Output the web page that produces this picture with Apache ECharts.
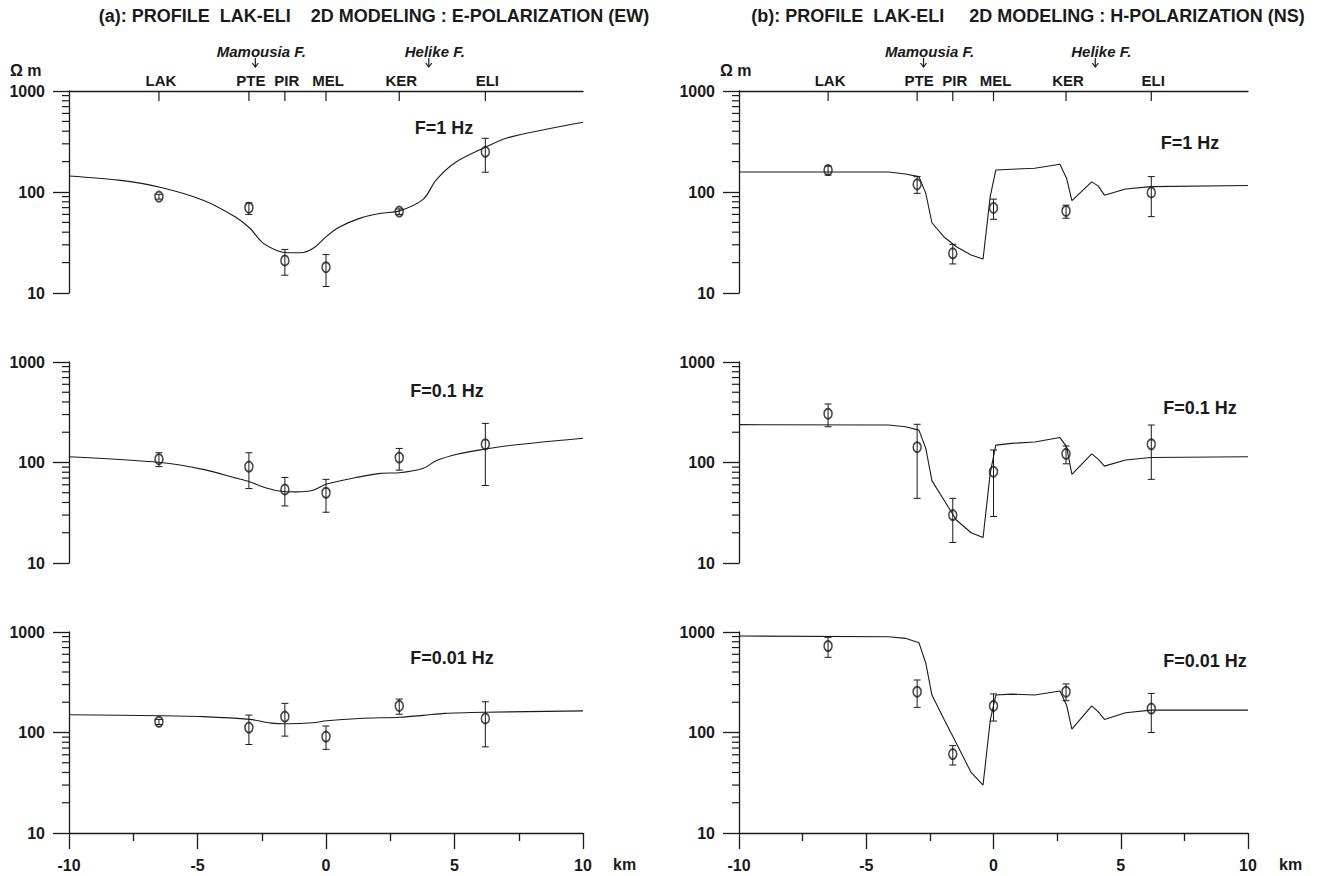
<!DOCTYPE html>
<html><head><meta charset="utf-8">
<script src="https://cdn.jsdelivr.net/npm/echarts@6/dist/echarts.min.js"></script>
<style>html,body{margin:0;padding:0;background:#fff}#c{width:1320px;height:876px}</style>
</head><body><div id="c"></div>
<script>
// ---------- DATA ----------
const STATIONS = ['LAK', 'PTE', 'PIR', 'MEL', 'KER', 'ELI'];
const STATION_X = [-6.5, -3.0, -1.6, 0.0, 2.85, 6.2];
const FAULTS = ['Mamousia F.', 'Helike F.'];
const FAULT_X = [-2.75, 4.0];
const FREQS = ['F=1 Hz', 'F=0.1 Hz', 'F=0.01 Hz'];
const TITLE_A = '(a): PROFILE  LAK-ELI    2D MODELING : E-POLARIZATION (EW)';
const TITLE_B = '(b): PROFILE  LAK-ELI     2D MODELING : H-POLARIZATION (NS)';
const Y_UNIT = 'Ω m';
const X_UNIT = 'km';
const MINOR_Y_TICKS = [20, 30, 40, 50, 60, 70, 80, 90, 200, 300, 400, 500, 600, 700, 800, 900];

// E-polarization (EW) observed apparent resistivity and error limits
const E1_OBS = [90, 70, 21, 18, 64, 250];
const E1_LO  = [85, 60, 15, 11.6, 60, 157];
const E1_HI  = [95, 78, 27, 24, 68, 340];
const E01_OBS = [108, 91, 54, 50, 112, 152];
const E01_LO  = [91, 55, 37, 32, 84, 59];
const E01_HI  = [125, 125, 71, 68, 138, 245];
const E001_OBS = [128, 112, 144, 91, 184, 138];
const E001_LO  = [120, 76, 92, 68, 152, 72];
const E001_HI  = [135, 149, 195, 116, 215, 202];

// E-polarization 2D model responses
const E1_MODEL_X = [-10, -8.07, -6.42, -4.78, -3.54, -2.97, -2.47, -1.89, -1.48, -0.99, -0.5, 0.03, 0.49, 1.31, 2.14, 2.86, 3.79, 4.28, 5.02, 6.17, 7.08, 10];
const E1_MODEL   = [144, 131, 111, 83, 57, 44, 31.5, 26.2, 25, 25, 27.7, 36.6, 44.6, 54.8, 61.5, 65, 85, 131, 195, 275, 345, 490];
const E01_MODEL_X = [-10, -6.45, -4.78, -3.46, -2.97, -2.47, -1.89, -1.16, -0.5, 0.03, 1.31, 2.14, 2.86, 3.79, 4.28, 5.1, 6.19, 7.08, 10];
const E01_MODEL   = [114, 100, 85.5, 69.6, 64.4, 57.4, 52.4, 51, 53, 61, 72, 78, 79, 87.5, 104, 121, 136, 147, 174];
const E001_MODEL_X = [-10, -6.45, -4.78, -2.97, -2.14, -1.48, -0.5, 0.03, 1.31, 2.86, 3.79, 4.61, 6.19, 10];
const E001_MODEL   = [150, 147, 144, 135, 124, 122, 125, 131, 138, 142, 148, 155, 159, 164];

// H-polarization (NS) observed apparent resistivity and error limits
const H1_OBS = [165, 119, 24.7, 69.5, 65, 99];
const H1_LO  = [147, 97, 19.4, 53.7, 55, 57];
const H1_HI  = [181, 142, 30.3, 85, 74, 142];
const H01_OBS = [306, 142, 30, 81, 122, 152];
const H01_LO  = [227, 44, 16, 29, 97, 68];
const H01_HI  = [382, 240, 44, 133, 146, 236];
const H001_OBS = [726, 255, 61, 184, 255, 173];
const H001_LO  = [560, 178, 47.5, 130, 207, 100];
const H001_HI  = [885, 333, 74, 242, 304, 245];

// H-polarization 2D model responses
const H_MODEL_X = [-10, -4.12, -3.46, -2.93, -2.66, -2.42, -1.93, -1.46, -0.88, -0.41, -0.13, 0.09, 0.70, 1.62, 2.61, 2.87, 3.08, 3.86, 4.11, 4.36, 5.19, 6.19, 10];
const H1_MODEL   = [158, 158, 151, 142, 97, 49.6, 35.6, 28.7, 23.8, 21.7, 90, 165, 168, 172, 188, 137, 82, 126, 115, 93, 107, 113, 116];
const H01_MODEL  = [238, 236, 227, 210, 138, 66, 41.7, 26.8, 20, 17.9, 78, 149, 155, 160, 177, 144, 76, 122, 108, 92, 106, 112, 114];
const H001_MODEL = [912, 898, 865, 783, 489, 236, 133, 78, 40, 30, 131, 236, 241, 236, 259, 188, 108, 184, 161, 135, 157, 167, 167];

// ---------- LAYOUT ----------
const FONT = '"Liberation Sans", Arial, sans-serif';
const INK = '#1a1a1a';
const COLS = [{left: 69, width: 514}, {left: 739, width: 509}];
const ROWS = [{top: 91, height: 202}, {top: 362, height: 201}, {top: 632, height: 201}];
const FREQ_POS = [[[444, 128], [1190, 143]], [[447, 391], [1200, 408]], [[452, 658], [1205, 661]]];

const panels = [
  {mx: E1_MODEL_X, my: E1_MODEL, obs: E1_OBS, lo: E1_LO, hi: E1_HI, smooth: 0.3},
  {mx: H_MODEL_X, my: H1_MODEL, obs: H1_OBS, lo: H1_LO, hi: H1_HI, smooth: false},
  {mx: E01_MODEL_X, my: E01_MODEL, obs: E01_OBS, lo: E01_LO, hi: E01_HI, smooth: 0.3},
  {mx: H_MODEL_X, my: H01_MODEL, obs: H01_OBS, lo: H01_LO, hi: H01_HI, smooth: false},
  {mx: E001_MODEL_X, my: E001_MODEL, obs: E001_OBS, lo: E001_LO, hi: E001_HI, smooth: 0.3},
  {mx: H_MODEL_X, my: H001_MODEL, obs: H001_OBS, lo: H001_LO, hi: H001_HI, smooth: false}
];

const grid = [], xAxis = [], yAxis = [], series = [], graphic = [];
const lineStyle = {color: INK, width: 1.3};

panels.forEach((p, i) => {
  const row = Math.floor(i / 2), col = i % 2;
  grid.push({left: COLS[col].left, width: COLS[col].width, top: ROWS[row].top, height: ROWS[row].height});
  const isBottom = row === 2;
  xAxis.push({
    type: 'value', gridIndex: i, min: -10, max: 10, interval: 5, show: isBottom, position: 'bottom',
    axisLine: {show: true, onZero: false, lineStyle},
    axisTick: {show: true, length: 16, lineStyle},
    minorTick: {show: true, splitNumber: 2, length: 8, lineStyle},
    axisLabel: {fontFamily: FONT, fontWeight: 'bold', fontSize: 16, color: INK, margin: 24, formatter: v => String(v)},
    splitLine: {show: false}, minorSplitLine: {show: false}
  });
  const xi = xAxis.length - 1;
  yAxis.push({
    type: 'log', logBase: 10, gridIndex: i, min: 10, max: 1000,
    axisLine: {show: true, onZero: false, lineStyle},
    axisTick: {show: true, length: 16, lineStyle},
    axisLabel: {fontFamily: FONT, fontWeight: 'bold', fontSize: 16, color: INK, margin: 24, formatter: v => String(Math.round(v))},
    splitLine: {show: false}
  });
  const yi = yAxis.length - 1;
  // model response
  series.push({
    type: 'line', xAxisIndex: xi, yAxisIndex: yi, showSymbol: false, symbol: 'none',
    smooth: p.smooth, lineStyle: {color: INK, width: 1.1}, silent: true,
    data: p.mx.map((x, k) => [x, p.my[k]])
  });
  // error bars
  series.push({
    type: 'custom', xAxisIndex: xi, yAxisIndex: yi, silent: true, clip: false,
    encode: {x: 0, y: [1, 2]},
    data: STATION_X.map((x, k) => [x, p.lo[k], p.hi[k]]),
    renderItem: (params, api) => {
      const a = api.coord([api.value(0), api.value(1)]);
      const b = api.coord([api.value(0), api.value(2)]);
      const w = 3.5, st = {stroke: INK, lineWidth: 1};
      return {type: 'group', children: [
        {type: 'line', shape: {x1: a[0], y1: a[1], x2: b[0], y2: b[1]}, style: st},
        {type: 'line', shape: {x1: a[0] - w, y1: a[1], x2: a[0] + w, y2: a[1]}, style: st},
        {type: 'line', shape: {x1: b[0] - w, y1: b[1], x2: b[0] + w, y2: b[1]}, style: st}
      ]};
    }
  });
  // observed points
  series.push({
    type: 'scatter', xAxisIndex: xi, yAxisIndex: yi, silent: true,
    symbol: 'circle', symbolSize: [8, 10],
    itemStyle: {color: 'rgba(255,255,255,0)', borderColor: INK, borderWidth: 1.7},
    data: STATION_X.map((x, k) => [x, p.obs[k]])
  });
  // minor y ticks (log positions)
  series.push({
    type: 'custom', xAxisIndex: xi, yAxisIndex: yi, silent: true, clip: false,
    encode: {x: 0, y: 1},
    data: MINOR_Y_TICKS.map(v => [-10, v]),
    renderItem: (params, api) => {
      const c = api.coord([api.value(0), api.value(1)]);
      return {type: 'line', shape: {x1: c[0] - 7, y1: c[1], x2: c[0], y2: c[1]}, style: {stroke: INK, lineWidth: 1.2}};
    }
  });
  // frequency label
  const fp = FREQ_POS[row][col];
  graphic.push({type: 'text', x: fp[0], y: fp[1], style: {text: FREQS[row], font: 'bold 18px ' + FONT, fill: INK, align: 'center', verticalAlign: 'middle'}});

  if (row === 0) {
    // top axis line
    xAxis.push({
      type: 'value', gridIndex: i, position: 'top', min: -10, max: 10,
      axisLine: {show: true, onZero: false, lineStyle},
      axisTick: {show: false}, axisLabel: {show: false}, splitLine: {show: false}
    });
    const ti = xAxis.length - 1;
    // station ticks and names
    series.push({
      type: 'custom', xAxisIndex: ti, yAxisIndex: yi, silent: true, clip: false,
      encode: {x: 0, y: 1},
      data: STATION_X.map(x => [x, 1000]),
      renderItem: (params, api) => {
        const c = api.coord([api.value(0), api.value(1)]);
        return {type: 'group', children: [
          {type: 'line', shape: {x1: c[0], y1: c[1], x2: c[0], y2: c[1] + 10}, style: {stroke: INK, lineWidth: 1.2}},
          {type: 'text', style: {text: STATIONS[params.dataIndex], x: c[0] + 2, y: c[1] - 11, align: 'center', verticalAlign: 'middle', font: 'bold 15px ' + FONT, fill: INK}}
        ]};
      }
    });
    // fault annotations
    series.push({
      type: 'custom', xAxisIndex: ti, yAxisIndex: yi, silent: true, clip: false,
      encode: {x: 0, y: 1},
      data: FAULT_X.map(x => [x, 1000]),
      renderItem: (params, api) => {
        const c = api.coord([api.value(0), api.value(1)]);
        const y0 = c[1] - 33, y1 = c[1] - 24;
        const st = {stroke: INK, lineWidth: 1.2, fill: 'none'};
        return {type: 'group', children: [
          {type: 'line', shape: {x1: c[0], y1: y0, x2: c[0], y2: y1}, style: st},
          {type: 'polyline', shape: {points: [[c[0] - 3, y1 - 4], [c[0], y1], [c[0] + 3, y1 - 4]]}, style: st},
          {type: 'text', style: {text: FAULTS[params.dataIndex], x: c[0] + 6, y: c[1] - 40, align: 'center', verticalAlign: 'middle', font: 'italic bold 15px ' + FONT, fill: INK}}
        ]};
      }
    });
  }
});

// titles and units
graphic.push({type: 'text', x: 374, y: 16, style: {text: TITLE_A, font: 'bold 18px ' + FONT, fill: INK, align: 'center', verticalAlign: 'middle'}});
graphic.push({type: 'text', x: 1028, y: 16, style: {text: TITLE_B, font: 'bold 18px ' + FONT, fill: INK, align: 'center', verticalAlign: 'middle'}});
graphic.push({type: 'text', x: 10, y: 70, style: {text: Y_UNIT, font: 'bold 16px ' + FONT, fill: INK, align: 'left', verticalAlign: 'middle'}});
graphic.push({type: 'text', x: 720, y: 70, style: {text: Y_UNIT, font: 'bold 16px ' + FONT, fill: INK, align: 'left', verticalAlign: 'middle'}});
graphic.push({type: 'text', x: 613, y: 864, style: {text: X_UNIT, font: 'bold 16px ' + FONT, fill: INK, align: 'left', verticalAlign: 'middle'}});
graphic.push({type: 'text', x: 1279, y: 864, style: {text: X_UNIT, font: 'bold 16px ' + FONT, fill: INK, align: 'left', verticalAlign: 'middle'}});

const chart = echarts.init(document.getElementById('c'), null, {renderer: 'svg'});
chart.setOption({
  animation: false,
  backgroundColor: '#ffffff',
  grid, xAxis, yAxis, series, graphic
});
</script>
</body></html>
